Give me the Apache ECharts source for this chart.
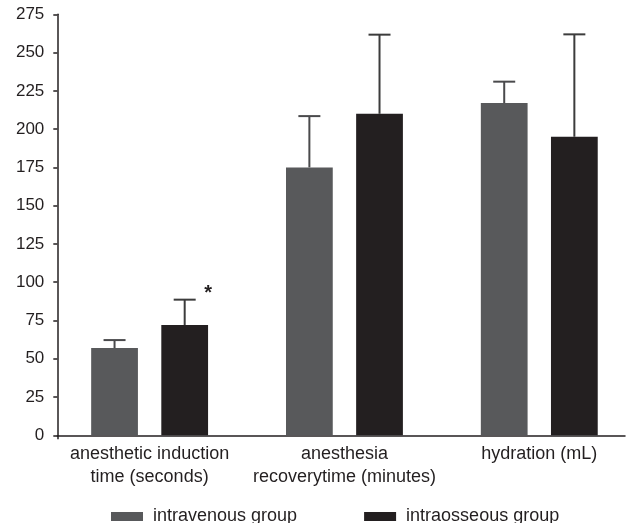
<!DOCTYPE html>
<html>
<head>
<meta charset="utf-8">
<script src="https://cdn.jsdelivr.net/npm/echarts@6/dist/echarts.min.js"></script>
<style>html,body{margin:0;padding:0;background:#fff}#c{width:630px;height:523px}</style>
</head>
<body>
<div id="c"></div>
<script>
var categories = ['anesthetic induction\ntime (seconds)', 'anesthesia\nrecoverytime (minutes)', 'hydration (mL)'];
var seriesNames = ['intravenous group', 'intraosseous group'];
var ivMean = [57, 175, 217];
var ivSD = [5.2, 33.5, 14];
var ioMean = [72, 210, 195];
var ioSD = [16.6, 51.7, 66.9];
var ioMarks = ['*', '', ''];
var yTicks = {min: 0, max: 275, interval: 25};

var BAR_FRAC = 0.24, BAR_GAP = 0.5;
var font = 'Liberation Sans, Arial, Helvetica, sans-serif';
var textColor = '#231f20';

function errRender(sign, marks, color) {
  return function (params, api) {
    var i = api.value(0), m = api.value(1), sd = api.value(2);
    var band = api.size([1, 0])[0];
    var off = sign * band * BAR_FRAC * (1 + BAR_GAP) / 2;
    var base = api.coord([i, m]);
    var top = api.coord([i, m + sd]);
    var x = base[0] + off;
    var cap = 11;
    var children = [
      {type: 'line', shape: {x1: x, y1: base[1], x2: x, y2: top[1]}, style: {stroke: color, lineWidth: 2}},
      {type: 'line', shape: {x1: x - cap, y1: top[1], x2: x + cap, y2: top[1]}, style: {stroke: color, lineWidth: 2}}
    ];
    if (marks && marks[i]) {
      children.push({type: 'text', x: x + 23.5, y: top[1] - 16, style: {text: marks[i], font: 'bold 20px ' + font, fill: textColor, align: 'center', verticalAlign: 'top'}});
    }
    return {type: 'group', children: children};
  };
}

var chart = echarts.init(document.getElementById('c'), null, {renderer: 'canvas'});
chart.setOption({
  animation: false,
  backgroundColor: '#fff',
  grid: [
    {left: 52.2, width: 584.5, top: 14.3, bottom: 87.7, containLabel: false, outerBoundsMode: 'none'},
    {left: 57.3, right: 5, top: 14.3, bottom: 87.7, containLabel: false, outerBoundsMode: 'none'}
  ],
  legend: {
    data: seriesNames,
    left: 106, top: 501.5,
    itemWidth: 32, itemHeight: 9, itemGap: 67,
    icon: 'rect',
    textStyle: {fontFamily: font, fontSize: 18, color: textColor, lineHeight: 20, padding: [0, 0, 0, 5]}
  },
  xAxis: [
    {type: 'category', gridIndex: 0, data: categories,
     axisLine: {show: false}, axisTick: {show: false},
     axisLabel: {fontFamily: font, fontSize: 18, color: textColor, lineHeight: 23, margin: 7, interval: 0}},
    {type: 'value', gridIndex: 1, min: 0, max: 1,
     axisLine: {show: true, lineStyle: {color: textColor, width: 1.5}},
     axisTick: {show: true, customValues: [0], length: 4, lineStyle: {color: textColor, width: 1.5}},
     axisLabel: {show: false}, splitLine: {show: false}}
  ],
  yAxis: [
    {type: 'value', gridIndex: 0, min: yTicks.min, max: yTicks.max, interval: yTicks.interval, show: false},
    {type: 'value', gridIndex: 1, min: yTicks.min, max: yTicks.max, interval: yTicks.interval,
     axisLine: {show: true, lineStyle: {color: textColor, width: 1.5}},
     axisTick: {show: true, length: 4, lineStyle: {color: textColor, width: 1.5}},
     axisLabel: {fontFamily: font, fontSize: 17, color: textColor, margin: 13},
     splitLine: {show: false}}
  ],
  series: [
    {name: seriesNames[0], type: 'bar', xAxisIndex: 0, yAxisIndex: 0, data: ivMean,
     barWidth: (BAR_FRAC * 100) + '%', barGap: (BAR_GAP * 100) + '%', itemStyle: {color: '#58595b'}},
    {name: seriesNames[1], type: 'bar', xAxisIndex: 0, yAxisIndex: 0, data: ioMean,
     barWidth: (BAR_FRAC * 100) + '%', barGap: (BAR_GAP * 100) + '%', itemStyle: {color: '#231f20'}},
    {type: 'custom', xAxisIndex: 0, yAxisIndex: 0, z: 5,
     data: ivMean.map(function (v, i) { return [i, v, ivSD[i]]; }),
     renderItem: errRender(-1, null, '#4a4a4c')},
    {type: 'custom', xAxisIndex: 0, yAxisIndex: 0, z: 5,
     data: ioMean.map(function (v, i) { return [i, v, ioSD[i]]; }),
     renderItem: errRender(1, ioMarks, '#3c3c3c')}
  ]
});
</script>
</body>
</html>
